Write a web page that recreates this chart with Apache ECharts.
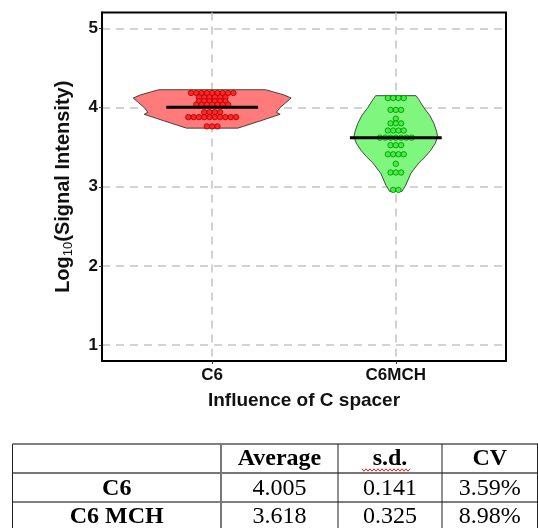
<!DOCTYPE html>
<html><head><meta charset="utf-8">
<script src="https://cdn.jsdelivr.net/npm/echarts@6/dist/echarts.min.js"></script>
<style>html,body{margin:0;padding:0;background:#fff}#c{width:538px;height:528px}</style>
</head><body><div id="c"></div>
<script>
// ---------- data ----------
const categories = ['C6', 'C6MCH'];
const categoryPositions = [1, 2];
const yTicks = [1, 2, 3, 4, 5];
const xAxisTitle = 'Influence of C spacer';

// individual points (binned dot-plot values, Log10 signal)
const c6Values = [
  4.184,4.184,4.184,4.184,4.184,4.184,4.184,4.184,4.184,
  4.129,4.129,4.129,4.129,4.129,4.129,
  4.079,4.079,4.079,4.079,4.079,4.079,
  4.037,4.037,4.037,4.037,4.037,4.037,4.037,
  3.941,3.941,3.941,3.941,
  3.879,3.879,3.879,3.879,3.879,3.879,3.879,3.879,3.879,3.879,
  3.762,3.762,3.762
];
const c6mchValues = [
  4.12,4.12,4.12,4.12,
  3.97,3.97,3.97,
  3.86,
  3.80,3.80,3.80,
  3.71,3.71,3.71,3.71,
  3.62,3.62,3.62,3.62,3.62,3.62,3.62,
  3.525,3.525,3.525,
  3.41,3.41,3.41,3.41,
  3.29,
  3.18,3.18,3.18,
  2.96,2.96
];

// violin density outlines: level (y) and half width (x units)
const c6ViolinLevels     = [4.225, 4.20, 4.16, 4.12, 4.06, 4.00, 3.94, 3.915, 3.83, 3.74];
const c6ViolinHalfWidths = [0.29,  0.33, 0.39, 0.43, 0.40, 0.37, 0.35, 0.37,  0.26, 0.14];
const c6mchViolinLevels     = [4.15, 4.10, 4.00, 3.90, 3.80, 3.70, 3.63, 3.55, 3.46, 3.38, 3.30, 3.17, 3.02, 2.94];
const c6mchViolinHalfWidths = [0.11, 0.125,0.152,0.185,0.207,0.222,0.228,0.215,0.19, 0.16, 0.125,0.082,0.054,0.033];

// summary table
const tableHeaders = ['Average', 's.d.', 'CV'];
const rowLabels = ['C6', 'C6 MCH'];
const averages = [4.005, 3.618];
const sds = [0.141, 0.325];
const cvs = ['3.59%', '8.98%'];

// ---------- styles ----------
const SANS = "'Liberation Sans', Arial, sans-serif";
const SERIF = "'Liberation Serif', 'Times New Roman', serif";
const violinFills = ['#ff7b7b', '#7ff77f'];
const dotFills = ['#ff2828', '#44f044'];
const dotStrokes = ['#b80000', '#009a00'];
const DOT_STEP = 5.3;
const MEAN_HALF = 0.25;

const violins = [
  {levels: c6ViolinLevels, widths: c6ViolinHalfWidths},
  {levels: c6mchViolinLevels, widths: c6mchViolinHalfWidths}
];

// dot items: [group, value, offsetIndex]
function stackDots(values, g) {
  const counts = new Map();
  values.forEach(v => counts.set(v, (counts.get(v) || 0) + 1));
  const out = [];
  counts.forEach((n, v) => {
    for (let k = 0; k < n; k++) out.push([g, v, k - (n - 1) / 2]);
  });
  return out;
}
const dotData = stackDots(c6Values, 0).concat(stackDots(c6mchValues, 1));

const chart = echarts.init(document.getElementById('c'), null, {renderer: 'canvas'});

// table graphics
const colX = [12.5, 221, 338, 442, 537.5];
const rowY = [444, 473, 502, 528];
const textY = [459, 489, 517];
const graphics = [];
graphics.push({type:'line', shape:{x1:colX[0], y1:rowY[0], x2:538, y2:rowY[0]}, style:{stroke:'#000', lineWidth:1}});
graphics.push({type:'line', shape:{x1:colX[0], y1:rowY[1], x2:538, y2:rowY[1]}, style:{stroke:'#777', lineWidth:2}});
graphics.push({type:'line', shape:{x1:colX[0], y1:rowY[2], x2:538, y2:rowY[2]}, style:{stroke:'#000', lineWidth:1}});
colX.forEach((x, i) => {
  graphics.push({type:'line', shape:{x1:x, y1:rowY[0], x2:x, y2:528},
    style:{stroke: i === 1 ? '#777' : '#222', lineWidth: i === 1 ? 2 : 1}});
});
tableHeaders.forEach((h, i) => {
  graphics.push({type:'text', x:(colX[i+1] + colX[i+2]) / 2, y:textY[0],
    style:{text:h, font:`bold 24px ${SERIF}`, fill:'#000', align:'center', verticalAlign:'middle'}});
});
(function(){
  const pts = [];
  for (let x = 362, k = 0; x <= 410; x += 2, k++) pts.push([x, 470 + (k % 2 ? 1.2 : -1.2)]);
  graphics.push({type:'polyline', shape:{points:pts}, style:{stroke:'#e02020', lineWidth:1, fill:null}});
})();
rowLabels.forEach((r, i) => {
  const y = textY[i+1];
  graphics.push({type:'text', x:(colX[0] + colX[1]) / 2, y,
    style:{text:r, font:`bold 24px ${SERIF}`, fill:'#000', align:'center', verticalAlign:'middle'}});
  const vals = [averages[i].toFixed(3), sds[i].toFixed(3), cvs[i]];
  vals.forEach((v, j) => {
    graphics.push({type:'text', x:(colX[j+1] + colX[j+2]) / 2, y,
      style:{text:v, font:`24px ${SERIF}`, fill:'#000', align:'center', verticalAlign:'middle'}});
  });
});

const option = {
  animation: false,
  backgroundColor: '#fff',
  grid: {left: 102, right: 32, top: 12.5, bottom: 167, show: true, borderColor: '#000', borderWidth: 2, backgroundColor: 'transparent'},
  xAxis: {
    type: 'value', min: 0.4, max: 2.6,
    name: xAxisTitle, nameLocation: 'middle', nameGap: 30,
    nameTextStyle: {fontFamily: SANS, fontWeight: 'bold', fontSize: 19, color: '#111'},
    axisLine: {show: true, onZero: false, lineStyle: {color: '#000', width: 2}},
    axisTick: {show: true, length: 3, customValues: categoryPositions, lineStyle: {color: '#333', width: 1}},
    axisLabel: {customValues: categoryPositions, margin: 6, fontFamily: SANS, fontWeight: 'bold', fontSize: 17, color: '#111',
      formatter: v => categories[categoryPositions.indexOf(Math.round(v))] || ''},
    splitLine: {show: true, lineStyle: {color: '#c4c4c4', width: 1.5, type: [8, 6]}}
  },
  yAxis: {
    type: 'value', min: 0.8, max: 5.2,
    name: '{a|Log}{s|10}{a|(Signal Intensity)}', nameLocation: 'middle', nameGap: 27, nameRotate: 90,
    nameTextStyle: {rich: {
      a: {fontFamily: SANS, fontWeight: 'bold', fontSize: 20, color: '#111', lineHeight: 24},
      s: {fontFamily: SANS, fontSize: 13, color: '#111', lineHeight: 13, verticalAlign: 'bottom'}
    }},
    axisLine: {show: true, onZero: false, lineStyle: {color: '#000', width: 2}},
    axisTick: {show: true, length: 3, customValues: yTicks, lineStyle: {color: '#333', width: 1}},
    axisLabel: {customValues: yTicks, margin: 4, fontFamily: SANS, fontWeight: 'bold', fontSize: 17, color: '#111'},
    splitLine: {show: true, lineStyle: {color: '#c4c4c4', width: 1.5, type: [8, 6]}}
  },
  series: [
    {
      type: 'custom', name: 'violin', z: 2,
      data: [[0], [1]],
      renderItem: (params, api) => {
        const g = api.value(0);
        const cx = categoryPositions[g];
        const v = violins[g];
        const right = v.levels.map((lv, i) => api.coord([cx + v.widths[i], lv]));
        const left = v.levels.map((lv, i) => api.coord([cx - v.widths[i], lv])).reverse();
        return {type: 'polygon', shape: {points: right.concat(left)},
          style: {fill: violinFills[g], stroke: '#333', lineWidth: 0.9}};
      }
    },
    {
      type: 'custom', name: 'dots', z: 3,
      data: dotData,
      renderItem: (params, api) => {
        const g = api.value(0);
        const p = api.coord([categoryPositions[g], api.value(1)]);
        return {type: 'circle', shape: {cx: p[0] + api.value(2) * DOT_STEP, cy: p[1], r: 2.7},
          style: {fill: dotFills[g], stroke: dotStrokes[g], lineWidth: 0.9}};
      }
    },
    {
      type: 'custom', name: 'mean', z: 4,
      data: averages.map((a, g) => [g, a]),
      renderItem: (params, api) => {
        const g = api.value(0);
        const cx = categoryPositions[g];
        const a = api.coord([cx - MEAN_HALF, api.value(1)]);
        const b = api.coord([cx + MEAN_HALF, api.value(1)]);
        return {type: 'line', shape: {x1: a[0], y1: a[1], x2: b[0], y2: b[1]},
          style: {stroke: '#000', lineWidth: 3}};
      }
    }
  ],
  graphic: graphics
};
chart.setOption(option);
</script>
</body></html>
